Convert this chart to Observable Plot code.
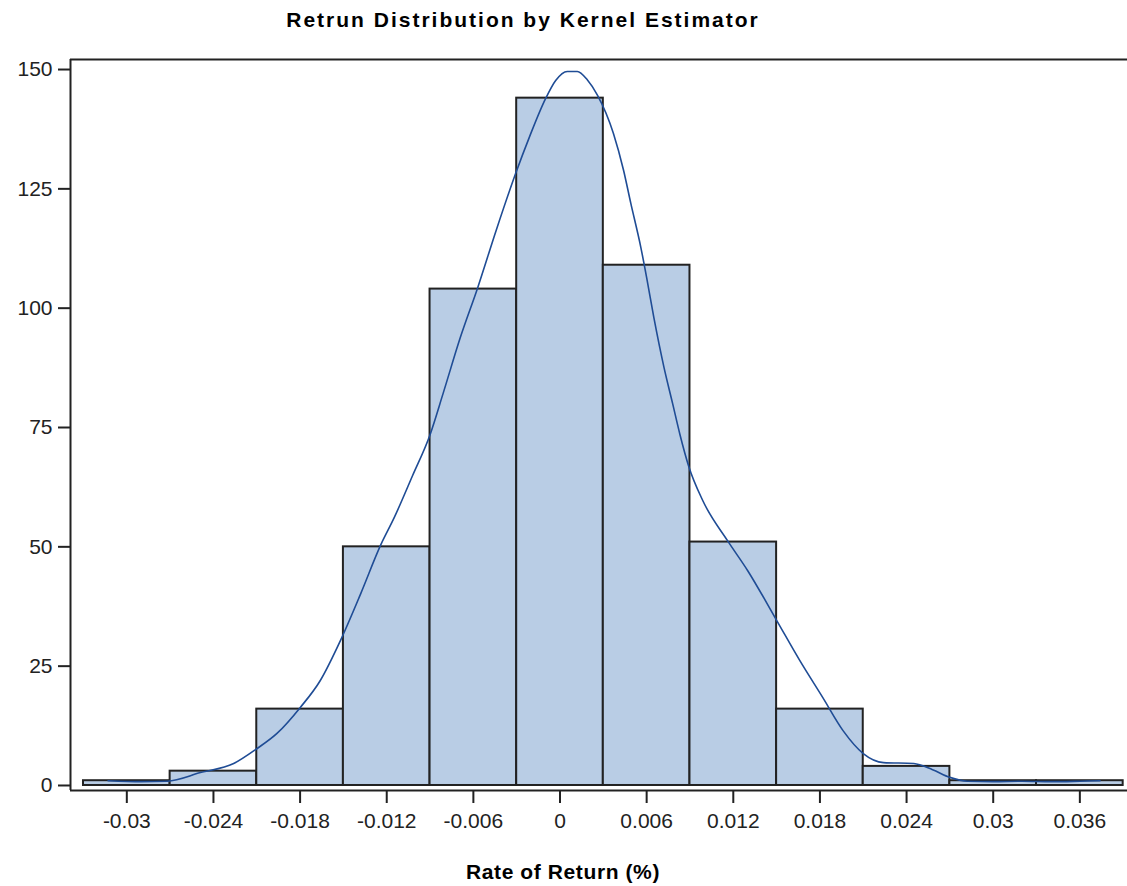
<!DOCTYPE html>
<html>
<head>
<meta charset="utf-8">
<script src="https://cdn.jsdelivr.net/npm/d3@7"></script>
<script src="https://cdn.jsdelivr.net/npm/@observablehq/plot@0.6"></script>
<style>
  html, body { margin: 0; padding: 0; background: #fff; }
  body { width: 1127px; height: 886px; overflow: hidden; font-family: "Liberation Sans", Arial, sans-serif; }
  #title { width: 1046px; height: 40px; line-height: 40px; text-align: center; font-weight: bold; font-size: 21px; letter-spacing: 2px; color: #000; }
  #xlabel { width: 1126px; height: 28px; padding-top: 12px; line-height: 28px; text-align: center; font-weight: bold; font-size: 21px; letter-spacing: 0.6px; color: #000; }
  #chart svg g[aria-label^="x-axis"] path, #chart svg g[aria-label^="y-axis"] path,
  #chart svg g[aria-label^="x-axis"] line, #chart svg g[aria-label^="y-axis"] line { stroke-width: 2; }
</style>
</head>
<body>
<div id="title">Retrun Distribution by Kernel Estimator</div>
<div id="chart"></div>
<div id="xlabel">Rate of Return (%)</div>
<script>
// Histogram bins (rate of return) and counts
const binLo  = [-0.033, -0.027, -0.021, -0.015, -0.009, -0.003, 0.003, 0.009, 0.015, 0.021, 0.027, 0.033];
const binHi  = [-0.027, -0.021, -0.015, -0.009, -0.003, 0.003, 0.009, 0.015, 0.021, 0.027, 0.033, 0.039];
const counts = [1, 3, 16, 50, 104, 144, 109, 51, 16, 4, 1, 1];

// Kernel density estimate (scaled to counts)
const kdeX = [-0.0313, -0.0290, -0.0272, -0.0249, -0.0226, -0.0210, -0.0196, -0.0180, -0.0166, -0.0152,
              -0.0138, -0.0124, -0.0115, -0.0102, -0.0090, -0.0081, -0.0069, -0.0057, -0.0044, -0.0031,
              -0.0021, -0.0010, -0.0003, 0.0005, 0.0012, 0.0019, 0.0026, 0.0037, 0.0044, 0.0049,
              0.0056, 0.0060, 0.0065, 0.0072, 0.0078, 0.0083, 0.0089, 0.0099, 0.0116, 0.0130,
              0.0150, 0.0166, 0.0182, 0.0196, 0.0210, 0.0224, 0.0245, 0.0258, 0.0270, 0.0282,
              0.0300, 0.0320, 0.0340, 0.0360, 0.0374];
const kdeY = [1.0, 0.8, 0.9, 2.7, 4.6, 7.7, 10.9, 16.3, 22.0, 30.4,
              40.2, 50.5, 56.0, 65.0, 73.5, 82.1, 93.9, 104.3, 116.5, 128.0,
              136.0, 143.9, 147.7, 149.6, 149.6, 147.8, 144.6, 136.6, 128.9, 122.0,
              112.7, 106.4, 98.0, 87.6, 80.0, 73.6, 67.0, 59.6, 51.3, 45.0,
              34.6, 26.2, 18.4, 11.5, 6.7, 4.8, 4.6, 3.3, 1.7, 0.9,
              0.8, 0.9, 0.8, 0.9, 1.0];

// Axis ticks
const xTicks = [-0.03, -0.024, -0.018, -0.012, -0.006, 0, 0.006, 0.012, 0.018, 0.024, 0.03, 0.036];
const xTickLabels = ["-0.03", "-0.024", "-0.018", "-0.012", "-0.006", "0", "0.006", "0.012", "0.018", "0.024", "0.03", "0.036"];
const yTicks = [0, 25, 50, 75, 100, 125, 150];

const xDomain = [-0.0339, 0.0393];
const yDomain = [-1.05, 152.1];

const bins = binLo.map((lo, i) => ({lo, hi: binHi[i], count: counts[i]}));
const kde = kdeX.map((x, i) => ({x, y: kdeY[i]}));

const frameColor = "#222";

const chart = Plot.plot({
  width: 1127,
  height: 806,
  marginLeft: 70,
  marginRight: 0,
  marginTop: 19,
  marginBottom: 56,
  style: {fontFamily: "'Liberation Sans', Arial, sans-serif", fontSize: "21px", color: "#222", background: "#fff", overflow: "visible"},
  x: {domain: xDomain, ticks: xTicks, tickFormat: d => xTickLabels[xTicks.indexOf(d)], tickSize: 13, tickPadding: 10, label: null},
  y: {domain: yDomain, ticks: yTicks, tickFormat: d => String(d), tickSize: 12, tickPadding: 6, label: null},
  marks: [
    Plot.rect(bins, {x1: "lo", x2: "hi", y1: 0, y2: "count", fill: "#B9CDE5", stroke: "#222", strokeWidth: 2, inset: 0}),
    Plot.line(kde, {x: "x", y: "y", stroke: "#1F4C95", strokeWidth: 1.6, curve: "monotone-x"}),
    Plot.ruleY([yDomain[1]], {stroke: frameColor, strokeWidth: 2}),
    Plot.ruleY([yDomain[0]], {stroke: frameColor, strokeWidth: 2}),
    Plot.ruleX([xDomain[0]], {stroke: frameColor, strokeWidth: 2})
  ]
});
document.getElementById("chart").append(chart);
</script>
</body>
</html>
